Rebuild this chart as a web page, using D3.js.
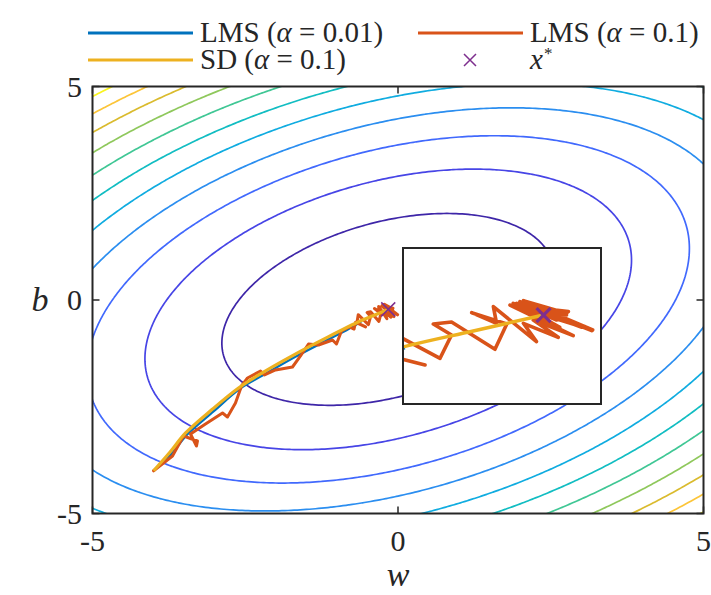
<!DOCTYPE html>
<html><head><meta charset="utf-8">
<script src="https://cdn.jsdelivr.net/npm/d3@7"></script>
<style>body{margin:0;background:#fff} svg{display:block}</style>
</head><body>
<script>
// ---------- data ----------
const xTicks = [-5, 0, 5];
const yTicks = [-5, 0, 5];
const xTickLabels = ["-5", "0", "5"];
const yTickLabels = ["-5", "0", "5"];
// quadratic cost  f = d^T R d  with d = [w,b] - xStar
const quadForm = [[1.0, -0.4257], [-0.4257, 1.469]];
const xStar = [-0.16, -0.22];
const contourLevels = [6.5, 13.9, 21.3, 28.7, 36.1, 43.5, 50.9, 58.3, 65.7, 73.1, 80.5];

const sdPath = [[-4.00,-4.00],[-3.73,-3.56],[-3.48,-3.12],[-3.04,-2.56],[-2.61,-2.06],[-2.25,-1.73],
  [-1.71,-1.29],[-1.15,-0.87],[-0.60,-0.482],[-0.38,-0.351],[-0.16,-0.22]];
const lms001Path = [[-4.00,-4.00],[-3.70,-3.59],[-3.45,-3.15],[-3.02,-2.61],[-2.59,-2.08],[-2.22,-1.77],
  [-1.68,-1.33],[-1.12,-0.91],[-0.75,-0.63],[-0.594,-0.49]];
const lms01Path = [[-4.0,-4.0],[-3.691,-3.653],[-3.511,-3.185],[-3.282,-3.302],[-3.298,-3.419],[-3.396,-3.138],
  [-3.151,-2.904],[-2.872,-2.646],[-2.791,-2.740],[-2.660,-2.412],[-2.561,-2.014],[-2.463,-1.827],
  [-2.250,-1.663],[-2.185,-1.756],[-2.005,-1.639],[-1.727,-1.569],[-1.596,-1.311],[-1.465,-1.030],
  [-1.301,-1.054],[-1.072,-0.937],[-1.007,-1.030],[-0.925,-0.726],[-0.794,-0.632],[-0.720,-0.680],
  [-0.693,-0.520],[-0.531,-0.630],[-0.672,-0.534],[-0.651,-0.343],[-0.484,-0.575],[-0.448,-0.384],
  [-0.505,-0.294],[-0.448,-0.277],[-0.312,-0.501],[-0.275,-0.294],[-0.385,-0.201],[-0.307,-0.288],
  [-0.317,-0.151],[-0.182,-0.438],[-0.223,-0.288],[-0.114,-0.403],[-0.192,-0.261],[-0.067,-0.389],
  [-0.265,-0.138],[-0.109,-0.321],[-0.244,-0.124],[-0.006,-0.343],[-0.223,-0.102],[-0.088,-0.206],
  [-0.161,-0.220],[-0.046,-0.302],[-0.234,-0.110],[-0.025,-0.329],[-0.150,-0.179],[-0.088,-0.220],
  [-0.171,-0.228],[-0.255,-0.124],[-0.015,-0.337],[-0.244,-0.151],[-0.056,-0.302],[-0.213,-0.138],
  [-0.009,-0.348],[-0.171,-0.165],[-0.082,-0.192],[-0.119,-0.261],[-0.230,-0.135],[-0.040,-0.320],
  [-0.200,-0.150],[-0.030,-0.315],[-0.161,-0.220]];
const insetXDomain = [-0.6, 0.02];
const insetYDomain = [-0.95, 0.33];
const legendNames = ["LMS", "LMS", "SD", ""];
const legendAlphas = ["0.01", "0.1", "0.1", ""];

// ---------- style ----------
const W = 711, H = 595;
const C_BLUE = "#0072BD", C_ORANGE = "#D95319", C_YELLOW = "#EDB120", C_PURPLE = "#7E2F8E";
const AX = "#262626";
const FONT = "'Liberation Serif', 'Times New Roman', serif";
const parulaStops = ["#3e26a8","#4745e6","#4169fd","#2b8ef0","#10ace0","#12bdc2","#40c795","#8fc85c","#dabb2e","#fcc539","#f9f41f"];

const svg = d3.select("body").append("svg").attr("width", W).attr("height", H);

const x = d3.scaleLinear([-5, 5], [92.5, 703.5]);
const y = d3.scaleLinear([-5, 5], [513.5, 86.5]);

function f(w, b) {
  const u = w - xStar[0], v = b - xStar[1];
  return quadForm[0][0]*u*u + (quadForm[0][1] + quadForm[1][0])*u*v + quadForm[1][1]*v*v;
}

const defs = svg.append("defs");
defs.append("clipPath").attr("id", "clipMain").append("rect")
  .attr("x", x(-5)).attr("y", y(5)).attr("width", x(5) - x(-5)).attr("height", y(-5) - y(5));

// contours
const g0 = -6.5, step = 0.05, n = 261;
const values = new Float64Array(n * n);
for (let j = 0; j < n; j++) for (let i = 0; i < n; i++) values[j*n + i] = f(g0 + i*step, g0 + j*step);
const contours = d3.contours().size([n, n]).thresholds(contourLevels)(values);
const proj = d3.geoTransform({ point(px, py) { this.stream.point(x(g0 + (px - 0.5)*step), y(g0 + (py - 0.5)*step)); } });
const cpath = d3.geoPath(proj);
const colorScale = d3.scaleLinear().domain(d3.range(parulaStops.length).map(i => i/(parulaStops.length-1))).range(parulaStops);

const gMain = svg.append("g").attr("clip-path", "url(#clipMain)");
gMain.selectAll("path.c").data(contours).join("path")
  .attr("d", cpath).attr("fill", "none")
  .attr("stroke", (d, i) => colorScale(i/(contourLevels.length-1)))
  .attr("stroke-width", 1.7);

const lineMain = d3.line().x(d => x(d[0])).y(d => y(d[1]));
const smoothMain = d3.line().x(d => x(d[0])).y(d => y(d[1])).curve(d3.curveCatmullRom.alpha(0.5));
gMain.append("path").attr("d", smoothMain(lms001Path)).attr("fill", "none").attr("stroke", C_BLUE).attr("stroke-width", 2.4);
gMain.append("path").attr("d", lineMain(lms01Path)).attr("fill", "none").attr("stroke", C_ORANGE).attr("stroke-width", 3).attr("stroke-linejoin", "round").attr("stroke-linecap", "round");
gMain.append("path").attr("d", smoothMain(sdPath)).attr("fill", "none").attr("stroke", C_YELLOW).attr("stroke-width", 3.2);
function cross(g, cx, cy, r, sw) {
  g.append("path").attr("d", `M${cx-r},${cy-r}L${cx+r},${cy+r}M${cx-r},${cy+r}L${cx+r},${cy-r}`)
    .attr("stroke", C_PURPLE).attr("stroke-width", sw).attr("fill", "none");
}
cross(gMain, x(xStar[0]), y(xStar[1]), 7, 1.5);

// axes frame & ticks
svg.append("rect").attr("x", x(-5)).attr("y", y(5)).attr("width", x(5)-x(-5)).attr("height", y(-5)-y(5))
  .attr("fill", "none").attr("stroke", AX).attr("stroke-width", 2);
const tl = 7;
xTicks.forEach(t => {
  svg.append("line").attr("x1", x(t)).attr("x2", x(t)).attr("y1", y(-5)).attr("y2", y(-5)-tl).attr("stroke", AX).attr("stroke-width", 1.5);
  svg.append("line").attr("x1", x(t)).attr("x2", x(t)).attr("y1", y(5)).attr("y2", y(5)+tl).attr("stroke", AX).attr("stroke-width", 1.5);
});
yTicks.forEach(t => {
  svg.append("line").attr("x1", x(-5)).attr("x2", x(-5)+tl).attr("y1", y(t)).attr("y2", y(t)).attr("stroke", AX).attr("stroke-width", 1.5);
  svg.append("line").attr("x1", x(5)).attr("x2", x(5)-tl).attr("y1", y(t)).attr("y2", y(t)).attr("stroke", AX).attr("stroke-width", 1.5);
});
svg.append("g").selectAll("text").data(xTicks).join("text")
  .attr("x", d => x(d)).attr("y", 551).attr("text-anchor", "middle")
  .attr("font-family", FONT).attr("font-size", 30).attr("fill", AX)
  .text((d, i) => xTickLabels[i]);
svg.append("g").selectAll("text").data(yTicks).join("text")
  .attr("x", 82).attr("y", d => y(d) + 10).attr("text-anchor", "end")
  .attr("font-family", FONT).attr("font-size", 30).attr("fill", AX)
  .text((d, i) => yTickLabels[i]);
svg.append("text").attr("x", x(0)).attr("y", 586).attr("text-anchor", "middle")
  .attr("font-family", FONT).attr("font-style", "italic").attr("font-size", 34).attr("fill", AX).text("w");
svg.append("text").attr("x", 40).attr("y", 311).attr("text-anchor", "middle")
  .attr("font-family", FONT).attr("font-style", "italic").attr("font-size", 34).attr("fill", AX).text("b");

// inset
const xi = d3.scaleLinear(insetXDomain, [403, 601]);
const yi = d3.scaleLinear(insetYDomain, [404, 248]);
defs.append("clipPath").attr("id", "clipInset").append("rect")
  .attr("x", 403).attr("y", 248).attr("width", 198).attr("height", 156);
svg.append("rect").attr("x", 403).attr("y", 248).attr("width", 198).attr("height", 156).attr("fill", "#fff");
const gIn = svg.append("g").attr("clip-path", "url(#clipInset)");
const lineIn = d3.line().x(d => xi(d[0])).y(d => yi(d[1]));
const smoothIn = d3.line().x(d => xi(d[0])).y(d => yi(d[1])).curve(d3.curveCatmullRom.alpha(0.5));
gIn.append("path").attr("d", smoothIn(lms001Path)).attr("fill", "none").attr("stroke", C_BLUE).attr("stroke-width", 2.8);
gIn.append("path").attr("d", lineIn(lms01Path)).attr("fill", "none").attr("stroke", C_ORANGE).attr("stroke-width", 3.6).attr("stroke-linejoin", "round").attr("stroke-linecap", "round");
gIn.append("path").attr("d", smoothIn(sdPath)).attr("fill", "none").attr("stroke", C_YELLOW).attr("stroke-width", 3.4);
cross(gIn, xi(xStar[0]), yi(xStar[1]), 7, 3.2);
svg.append("rect").attr("x", 403).attr("y", 248).attr("width", 198).attr("height", 156)
  .attr("fill", "none").attr("stroke", AX).attr("stroke-width", 2);

// legend
const legItems = [
  {col: 0, row: 0, color: C_BLUE, k: 0},
  {col: 1, row: 0, color: C_ORANGE, k: 1},
  {col: 0, row: 1, color: C_YELLOW, k: 2},
  {col: 1, row: 1, color: C_PURPLE, k: 3, marker: true}
];
const colX = [88, 418], rowY = [33, 60];
legItems.forEach(it => {
  const lx = colX[it.col], ly = rowY[it.row];
  const g = svg.append("g");
  if (it.marker) cross(g, lx + 52, ly, 6, 1.5);
  else g.append("line").attr("x1", lx).attr("x2", lx + 105).attr("y1", ly).attr("y2", ly)
        .attr("stroke", it.color).attr("stroke-width", 3);
  const t = g.append("text").attr("x", lx + 112).attr("y", ly + 9)
    .attr("font-family", FONT).attr("font-size", 29).attr("fill", AX);
  if (it.marker) {
    t.append("tspan").attr("font-style", "italic").text("x");
    t.append("tspan").attr("font-size", 17).attr("dx", 1).attr("dy", -10).text("*");
  } else {
    t.append("tspan").text(legendNames[it.k] + " (");
    t.append("tspan").attr("font-style", "italic").text("α");
    t.append("tspan").text(" = " + legendAlphas[it.k] + ")");
  }
});
</script>
</body></html>
